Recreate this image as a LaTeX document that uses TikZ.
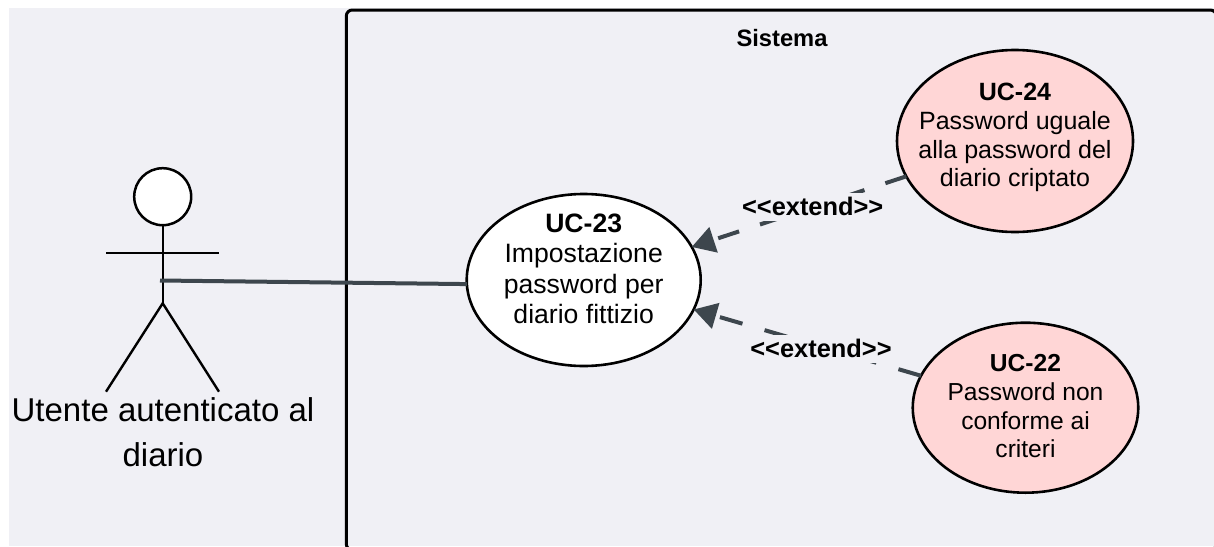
\documentclass[tikz,border=0pt]{standalone}
\usepackage{fontspec}
\setmainfont{Liberation Sans}
\usetikzlibrary{shapes.geometric,arrows.meta}
\definecolor{bgc}{HTML}{F0F0F5}
\definecolor{edgec}{HTML}{3D464D}
\definecolor{pinkc}{HTML}{FFD6D6}
\tikzset{
  uc/.style={ellipse,draw=black,line width=2.6pt,inner xsep=-40pt,inner ysep=0pt,outer sep=0pt,align=center,text=black},
  limb/.style={draw=black,line width=2.4pt},
  link/.style={draw=edgec,line width=4pt},
  ext/.style={link,-{Triangle[length=23pt,width=26pt,fill=edgec]}},
  extlabel/.style={fill=bgc,inner sep=0pt,text height=22.7pt,text depth=5.3pt,minimum width=143pt,
    font=\fontsize{25.4}{28}\selectfont\bfseries,anchor=base}
}
\begin{document}
\begin{tikzpicture}[x=1pt,y=-1pt]
\useasboundingbox (0,0) rectangle (1214,546);
\clip (0,0) rectangle (1214,546);
\fill[bgc] (9,8) rectangle (1214,546);
% system boundary
\node[draw=black,line width=3pt,rounded corners=6pt,minimum width=870pt,minimum height=540pt,outer sep=0pt,anchor=north west,inner sep=0pt] (sys) at (346.3,10) {};
\node[font=\fontsize{23.7}{28}\selectfont\bfseries,anchor=base,inner sep=0pt] (systitle) at (782,46) {Sistema};
% actor
\node[circle,draw=black,fill=white,line width=2.5pt,minimum size=57pt,inner sep=0pt,outer sep=0pt] (head) at (162.7,196.7) {};
\coordinate (hip) at (162.7,303.3);
\coordinate (armL) at (106,252.7);
\coordinate (armR) at (219,252.7);
\coordinate (legL) at (106,391.7);
\coordinate (legR) at (219,391.7);
\coordinate (grip) at (160,280.5);
\draw[limb] (head.south) -- (hip);
\draw[limb] (armL) -- (armR);
\draw[limb] (legL) -- (hip) -- (legR);
\node[font=\fontsize{33}{45.7}\selectfont,align=center,inner sep=0pt,text depth=0pt,anchor=south] (actor) at (163,467) {Utente autenticato al\\diario};
% use cases
\node[uc,fill=white,minimum width=234pt,minimum height=172pt,font=\fontsize{26.6}{30.2}\selectfont,text height=86.6pt,text depth=0pt] (uc23) at (583.7,280) {\textbf{UC-23}\\Impostazione\\password per\\diario fittizio};
\node[uc,fill=pinkc,minimum width=236pt,minimum height=182pt,font=\fontsize{25}{28.6}\selectfont,text height=91.4pt,text depth=0pt] (uc24) at (1015,141) {\textbf{UC-24}\\Password uguale\\alla password del\\diario criptato};
\node[uc,fill=pinkc,minimum width=225.5pt,minimum height=170pt,font=\fontsize{24.6}{28.6}\selectfont,text height=100pt,text depth=0pt] (uc22) at (1025.5,407.7) {\textbf{UC-22}\\Password non\\conforme ai\\criteri};
% connectors
\draw[link] (grip) -- (uc23.182);
\draw[ext,dash pattern=on 22pt off 22pt] (uc24.198) -- (uc23.17.8);
\draw[ext,dash pattern=on 23.5pt off 23pt] (uc22.163.9) -- (uc23.-15.9);
% connector labels
\node[extlabel] (l1) at (812.7,215.7) {<{}<extend>{}>};
\node[extlabel] (l2) at (821,357.3) {<{}<extend>{}>};
\end{tikzpicture}
\end{document}
